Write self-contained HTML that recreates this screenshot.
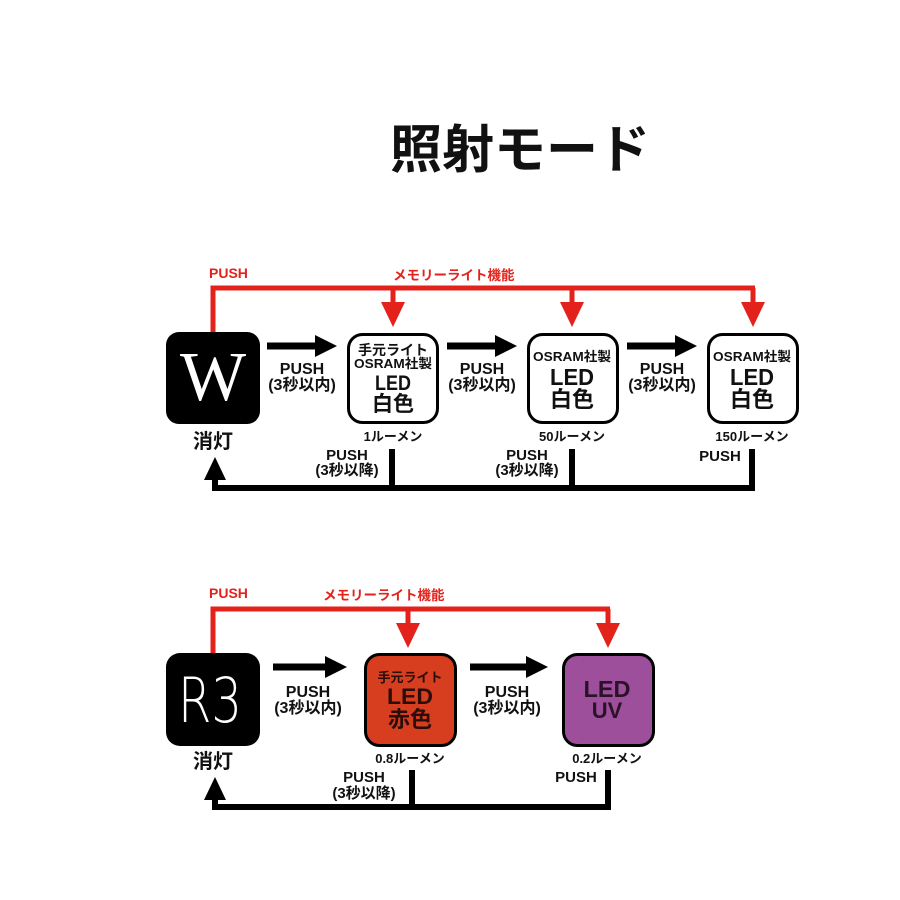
<!DOCTYPE html>
<html><head><meta charset="utf-8"><style>
html,body{margin:0;padding:0;background:#fff;}
svg{display:block;}
text{font-family:"Liberation Sans","Noto Sans CJK JP",sans-serif;font-weight:bold;}
</style></head><body>
<svg width="900" height="900" viewBox="0 0 900 900" xmlns="http://www.w3.org/2000/svg">
<rect width="900" height="900" fill="#fff"/>
<!-- Title -->
<text x="520" y="168" font-size="52" text-anchor="middle" fill="#111">照射モード</text>

<!-- ===== TOP DIAGRAM ===== -->
<g stroke="#e3221b" stroke-width="5" fill="none" stroke-linejoin="miter">
<polyline points="213,333 213,288 755,288"/>
<line x1="393" y1="288" x2="393" y2="304"/>
<line x1="572" y1="288" x2="572" y2="304"/>
<line x1="753" y1="288" x2="753" y2="304"/>
</g>
<g fill="#e3221b">
<polygon points="381,302 405,302 393,327"/>
<polygon points="560,302 584,302 572,327"/>
<polygon points="741,302 765,302 753,327"/>
</g>
<text x="209" y="278" font-size="14" fill="#e3221b">PUSH</text>
<text x="393" y="280" font-size="13.5" fill="#e3221b">メモリーライト機能</text>

<!-- W box -->
<rect x="166" y="332" width="94" height="92" rx="13" fill="#000"/>
<text x="213" y="400" font-size="70" text-anchor="middle" fill="#fff" style="font-family:'Liberation Serif',serif;font-weight:normal">W</text>
<text x="213" y="448" font-size="20" text-anchor="middle" fill="#111">消灯</text>

<!-- nodes -->
<g fill="#fff" stroke="#000" stroke-width="3">
<rect x="348.5" y="334.5" width="89" height="88" rx="14"/>
<rect x="528.5" y="334.5" width="89" height="88" rx="14"/>
<rect x="708.5" y="334.5" width="89" height="88" rx="14"/>
</g>
<g fill="#111" text-anchor="middle">
<text x="393" y="355" font-size="14">手元ライト</text>
<text x="393" y="368" font-size="13" textLength="78" lengthAdjust="spacingAndGlyphs">OSRAM社製</text>
<text x="393" y="390" font-size="21" textLength="36" lengthAdjust="spacingAndGlyphs">LED</text>
<text x="393" y="411" font-size="21">白色</text>

<text x="572" y="361" font-size="13" textLength="78" lengthAdjust="spacingAndGlyphs">OSRAM社製</text>
<text x="572" y="385" font-size="23" textLength="44" lengthAdjust="spacingAndGlyphs">LED</text>
<text x="572" y="407" font-size="22">白色</text>

<text x="752" y="361" font-size="13" textLength="78" lengthAdjust="spacingAndGlyphs">OSRAM社製</text>
<text x="752" y="385" font-size="23" textLength="44" lengthAdjust="spacingAndGlyphs">LED</text>
<text x="752" y="407" font-size="22">白色</text>

<text x="393" y="441" font-size="13">1ルーメン</text>
<text x="572" y="441" font-size="13">50ルーメン</text>
<text x="752" y="441" font-size="13">150ルーメン</text>
</g>

<!-- black forward arrows -->
<g stroke="#000" stroke-width="7">
<line x1="267" y1="346" x2="318" y2="346"/>
<line x1="447" y1="346" x2="498" y2="346"/>
<line x1="627" y1="346" x2="678" y2="346"/>
</g>
<g fill="#000">
<polygon points="315,335 337,346 315,357"/>
<polygon points="495,335 517,346 495,357"/>
<polygon points="675,335 697,346 675,357"/>
</g>
<g fill="#111" text-anchor="middle">
<text x="302" y="374" font-size="16">PUSH</text>
<text x="302" y="390" font-size="16">(3秒以内)</text>
<text x="482" y="374" font-size="16">PUSH</text>
<text x="482" y="390" font-size="16">(3秒以内)</text>
<text x="662" y="374" font-size="16">PUSH</text>
<text x="662" y="390" font-size="16">(3秒以内)</text>
</g>

<!-- return path -->
<g stroke="#000" stroke-width="6" fill="none" stroke-linejoin="miter">
<line x1="392" y1="449" x2="392" y2="488"/>
<line x1="572" y1="449" x2="572" y2="488"/>
<polyline points="752,449 752,488 215,488 215,478"/>
</g>
<polygon points="204,480 226,480 215,457" fill="#000"/>
<g fill="#111" text-anchor="middle">
<text x="347" y="460" font-size="15">PUSH</text>
<text x="347" y="475" font-size="15">(3秒以降)</text>
<text x="527" y="460" font-size="15">PUSH</text>
<text x="527" y="475" font-size="15">(3秒以降)</text>
<text x="720" y="461" font-size="15">PUSH</text>
</g>

<!-- ===== BOTTOM DIAGRAM ===== -->
<g stroke="#e3221b" stroke-width="5" fill="none">
<polyline points="213,654 213,609 610,609"/>
<line x1="408" y1="609" x2="408" y2="625"/>
<line x1="608" y1="609" x2="608" y2="625"/>
</g>
<g fill="#e3221b">
<polygon points="396,623 420,623 408,648"/>
<polygon points="596,623 620,623 608,648"/>
</g>
<text x="209" y="598" font-size="14" fill="#e3221b">PUSH</text>
<text x="323" y="600" font-size="13.5" fill="#e3221b">メモリーライト機能</text>

<!-- R3 box -->
<rect x="166" y="653" width="94" height="93" rx="14" fill="#000"/>
<text x="210" y="722" font-size="62" text-anchor="middle" fill="#fff" textLength="64" lengthAdjust="spacingAndGlyphs" style="font-family:'DejaVu Sans','Liberation Sans',sans-serif;font-weight:200">R3</text>
<text x="213" y="768" font-size="20" text-anchor="middle" fill="#111">消灯</text>

<!-- nodes -->
<rect x="365.5" y="654.5" width="90" height="91" rx="14" fill="#d73d1f" stroke="#000" stroke-width="3"/>
<rect x="563.5" y="654.5" width="90" height="91" rx="14" fill="#9d4f9b" stroke="#000" stroke-width="3"/>
<g fill="#2a0d08" text-anchor="middle">
<text x="410" y="682" font-size="13">手元ライト</text>
<text x="410" y="704" font-size="22" textLength="46" lengthAdjust="spacingAndGlyphs">LED</text>
<text x="410" y="727" font-size="22">赤色</text>
</g>
<g fill="#2a1229" text-anchor="middle">
<text x="607" y="697" font-size="23" textLength="47" lengthAdjust="spacingAndGlyphs">LED</text>
<text x="607" y="718" font-size="22">UV</text>
</g>
<g fill="#111" text-anchor="middle">
<text x="410" y="763" font-size="13">0.8ルーメン</text>
<text x="607" y="763" font-size="13">0.2ルーメン</text>
</g>

<!-- forward arrows -->
<g stroke="#000" stroke-width="7">
<line x1="273" y1="667" x2="328" y2="667"/>
<line x1="470" y1="667" x2="528" y2="667"/>
</g>
<g fill="#000">
<polygon points="325,656 347,667 325,678"/>
<polygon points="526,656 548,667 526,678"/>
</g>
<g fill="#111" text-anchor="middle">
<text x="308" y="697" font-size="16">PUSH</text>
<text x="308" y="713" font-size="16">(3秒以内)</text>
<text x="507" y="697" font-size="16">PUSH</text>
<text x="507" y="713" font-size="16">(3秒以内)</text>
</g>

<!-- return path -->
<g stroke="#000" stroke-width="6" fill="none">
<line x1="412" y1="770" x2="412" y2="807"/>
<polyline points="608,770 608,807 215,807 215,798"/>
</g>
<polygon points="204,800 226,800 215,777" fill="#000"/>
<g fill="#111" text-anchor="middle">
<text x="364" y="782" font-size="15">PUSH</text>
<text x="364" y="798" font-size="15">(3秒以降)</text>
<text x="576" y="782" font-size="15">PUSH</text>
</g>
</svg>
</body></html>
